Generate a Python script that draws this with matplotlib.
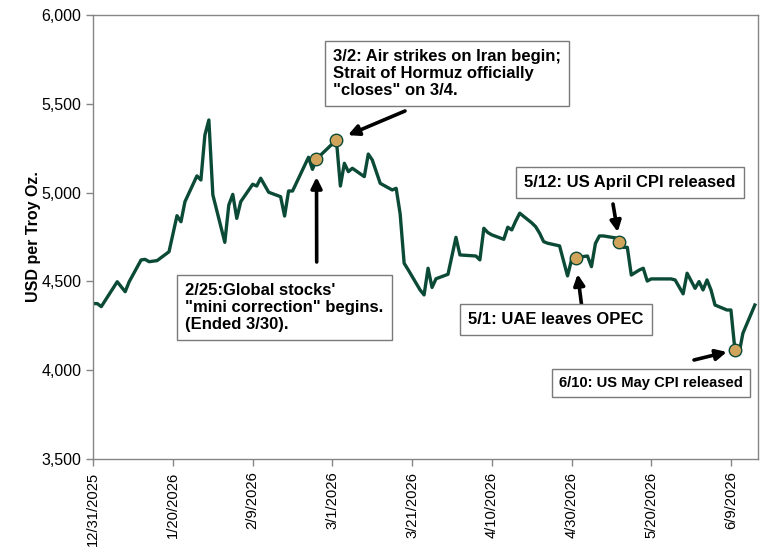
import matplotlib
matplotlib.use("Agg")
import matplotlib.pyplot as plt
import matplotlib.ticker as mticker
import pandas as pd

plt.rcParams['font.family'] = ['Liberation Sans', 'DejaVu Sans']

# gold price, USD per troy oz
dates = [
    '2025-12-31', '2026-01-01', '2026-01-02', '2026-01-06', '2026-01-08', '2026-01-09',
    '2026-01-12', '2026-01-13', '2026-01-14', '2026-01-16', '2026-01-19', '2026-01-21',
    '2026-01-22', '2026-01-23', '2026-01-26', '2026-01-27', '2026-01-28', '2026-01-29',
    '2026-01-30', '2026-02-02', '2026-02-03', '2026-02-04', '2026-02-05', '2026-02-06',
    '2026-02-09', '2026-02-10', '2026-02-11', '2026-02-13', '2026-02-16', '2026-02-17',
    '2026-02-18', '2026-02-19', '2026-02-23', '2026-02-24', '2026-02-25', '2026-03-02',
    '2026-03-03', '2026-03-04', '2026-03-05', '2026-03-06', '2026-03-09', '2026-03-10',
    '2026-03-11', '2026-03-13', '2026-03-16', '2026-03-17', '2026-03-18', '2026-03-19',
    '2026-03-20', '2026-03-23', '2026-03-24', '2026-03-25', '2026-03-26', '2026-03-27',
    '2026-03-30', '2026-04-01', '2026-04-02', '2026-04-06', '2026-04-07', '2026-04-08',
    '2026-04-09', '2026-04-10', '2026-04-13', '2026-04-14', '2026-04-15', '2026-04-16',
    '2026-04-17', '2026-04-20', '2026-04-21', '2026-04-22', '2026-04-23', '2026-04-24',
    '2026-04-27', '2026-04-28', '2026-04-29', '2026-04-30', '2026-05-01', '2026-05-04',
    '2026-05-05', '2026-05-06', '2026-05-07', '2026-05-08', '2026-05-11', '2026-05-12',
    '2026-05-13', '2026-05-14', '2026-05-15', '2026-05-17', '2026-05-18', '2026-05-19',
    '2026-05-20', '2026-05-25', '2026-05-26', '2026-05-28', '2026-05-29', '2026-05-31',
    '2026-06-01', '2026-06-02', '2026-06-03', '2026-06-04', '2026-06-05', '2026-06-08',
    '2026-06-09', '2026-06-10', '2026-06-11', '2026-06-12', '2026-06-15',
]
prices = [
    4375, 4375, 4358, 4498, 4442, 4498,
    4621, 4624, 4611, 4617, 4667, 4870,
    4836, 4949, 5094, 5071, 5324, 5409,
    4987, 4720, 4930, 4990, 4855, 4949,
    5047, 5037, 5081, 5002, 4977, 4868,
    5009, 5009, 5199, 5131, 5189, 5296,
    5037, 5165, 5118, 5137, 5090, 5217,
    5184, 5052, 5015, 5024, 4880, 4602,
    4566, 4452, 4424, 4574, 4466, 4515,
    4540, 4748, 4649, 4643, 4621, 4799,
    4775, 4762, 4737, 4805, 4790, 4840,
    4884, 4830, 4808, 4771, 4724, 4715,
    4700, 4615, 4531, 4621, 4634, 4643,
    4583, 4714, 4756, 4756, 4745, 4724,
    4692, 4692, 4536, 4564, 4574, 4502,
    4514, 4514, 4508, 4430, 4546, 4461,
    4499, 4452, 4508, 4452, 4367, 4339,
    4339, 4114, 4090, 4208, 4367,
]

event_dates = ['2026-02-25', '2026-03-02', '2026-05-01', '2026-05-12', '2026-06-10']
event_texts = [
    "2/25:Global stocks'\n\"mini correction\" begins.\n(Ended 3/30).",
    "3/2: Air strikes on Iran begin;\nStrait of Hormuz officially\n\"closes\" on 3/4.",
    "5/1: UAE leaves OPEC",
    "5/12: US April CPI released",
    "6/10: US May CPI released",
]

s = pd.Series(prices, index=pd.to_datetime(dates))
ev = pd.to_datetime(event_dates)
ev_vals = s.loc[ev]

W, H = 770, 559
fig = plt.figure(figsize=(W / 100, H / 100), dpi=100)
L, R, T, B = 93.3, 758, 15, 459
ax = fig.add_axes([L / W, 1 - B / H, (R - L) / W, (B - T) / H])

green = '#0B4A36'
ax.plot(s.index, s.values, color=green, lw=2.4, zorder=2)
ax.plot(ev, ev_vals.values, 'o', ms=9, mfc='#D1A45C', mec=green, mew=1.0, zorder=3)

ax.set_ylim(3500, 6000)
ax.yaxis.set_major_locator(mticker.MultipleLocator(500))
ax.yaxis.set_major_formatter(mticker.FuncFormatter(lambda v, p: f"{int(v):,}"))
x0 = pd.Timestamp('2025-12-31')
ax.set_xlim(x0, pd.Timestamp('2026-06-15 19:00'))
ticks = pd.date_range(x0, '2026-06-15', freq='20D')
ax.set_xticks(ticks)
ax.set_xticklabels([f"{d.month}/{d.day}/{d.year}" for d in ticks], rotation=90)

for sp in ax.spines.values():
    sp.set_color('#858585')
    sp.set_linewidth(1)
ax.tick_params(axis='both', colors='#858585', labelcolor='black', labelsize=11.5,
               length=5, width=1, direction='out')
ax.tick_params(axis='x', pad=4, labelsize=10.6)
ax.set_ylabel('USD per Troy Oz.', fontsize=11.5, fontweight='bold', labelpad=0)


def frac(px, py):
    return ((px - L) / (R - L), (B - py) / (B - T))


# text boxes (left, top in pixels), font sizes, arrow tails / shrink
boxes = [(185, 283), (333, 49), (468, 312), (524, 175), (559, 376)]
sizes = [12, 12, 12, 12, 10.6]
tails = [(316.7, 262), (405, 111), (581.7, 306), (613, 204), (694, 360)]
shrinks = [13, 9, 12, 7, 6]

for i, txt in enumerate(event_texts):
    bx, by = boxes[i]
    ax.text(*frac(bx, by), txt, transform=ax.transAxes, ha='left', va='top',
            fontsize=sizes[i], fontweight='bold', linespacing=1.15, zorder=5,
            bbox=dict(boxstyle='square,pad=0.5', fc='white', ec='#7a7a7a', lw=1))
    ax.annotate('', xy=(ev[i], ev_vals.values[i]), xycoords='data',
                xytext=frac(*tails[i]), textcoords='axes fraction',
                arrowprops=dict(arrowstyle='-|>', color='black', lw=2.6,
                                mutation_scale=16, shrinkA=0, shrinkB=shrinks[i]),
                zorder=4)

fig.savefig('out.png', dpi=100)
